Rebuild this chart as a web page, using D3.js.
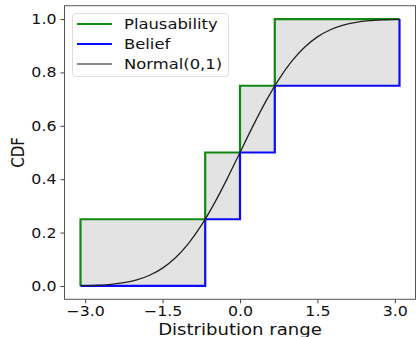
<!DOCTYPE html>
<html>
<head>
<meta charset="utf-8">
<script src="https://cdn.jsdelivr.net/npm/d3@7/dist/d3.min.js"></script>
<style>
  html, body { margin: 0; padding: 0; background: #fff; }
  svg { display: block; }
  svg text { font-family: "DejaVu Sans", sans-serif; fill: #111; }
</style>
</head>
<body>
<svg id="chart" width="416" height="337"></svg>
<script>
// Focal-element breakpoints (quartiles of N(0,1) plus the 0.001/0.999 tails)
const stepX = [-3.09, -0.674, 0, 0.674, 3.09];
// Upper (plausibility) and lower (belief) CDF bounds at each breakpoint
const plausibility = [0.25, 0.5, 0.75, 1.0, 1.0];
const belief = [0, 0.25, 0.5, 0.75, 1.0];

// Tabulated standard normal CDF
const normalX = [-3.09, -2.75, -2.5, -2.25, -2.0, -1.75, -1.5, -1.25, -1.0, -0.75, -0.5, -0.25, 0,
                 0.25, 0.5, 0.75, 1.0, 1.25, 1.5, 1.75, 2.0, 2.25, 2.5, 2.75, 3.09];
const normalY = [0.0010, 0.0030, 0.0062, 0.0122, 0.0228, 0.0401, 0.0668, 0.1056, 0.1587, 0.2266, 0.3085, 0.4013, 0.5,
                 0.5987, 0.6915, 0.7734, 0.8413, 0.8944, 0.9332, 0.9599, 0.9772, 0.9878, 0.9938, 0.9970, 0.9990];

const xTicks = [-3.0, -1.5, 0.0, 1.5, 3.0];
const yTicks = [0.0, 0.2, 0.4, 0.6, 0.8, 1.0];

const seriesNames = ["Plausability", "Belief", "Normal(0,1)"];
const seriesColors = ["#118811", "#0a0aff", "#222222"];

// Text is drawn slightly wide
const SX = 1.13;

const svg = d3.select("#chart");
const plotL = 64.5, plotR = 415.5, plotT = 5.7, plotB = 299.3;

const x = d3.scaleLinear().domain([-3.4, 3.4]).range([plotL, plotR]);
const y = d3.scaleLinear().domain([-0.05, 1.05]).range([plotB, plotT]);

// Shaded band between the bounds
const band = stepX.map((v, i) => ({x: v, lo: belief[i], hi: plausibility[i]}));
svg.append("path")
  .datum(band)
  .attr("d", d3.area().curve(d3.curveStepAfter)
    .x(d => x(d.x)).y0(d => y(d.lo)).y1(d => y(d.hi)))
  .attr("fill", "#e3e3e3");

// Plausibility: starts with a rise at the left end
const plausPts = [{x: stepX[0], y: 0}].concat(stepX.map((v, i) => ({x: v, y: plausibility[i]})));
const beliefPts = stepX.map((v, i) => ({x: v, y: belief[i]}));
const stepLine = d3.line().curve(d3.curveStepAfter).x(d => x(d.x)).y(d => y(d.y));

svg.append("path").datum(plausPts).attr("d", stepLine)
  .attr("fill", "none").attr("stroke", seriesColors[0]).attr("stroke-width", 2.2);
svg.append("path").datum(beliefPts).attr("d", stepLine)
  .attr("fill", "none").attr("stroke", seriesColors[1]).attr("stroke-width", 2.2);

// Normal(0,1) CDF
const normalPts = normalX.map((v, i) => ({x: v, y: normalY[i]}));
svg.append("path").datum(normalPts)
  .attr("d", d3.line().curve(d3.curveMonotoneX).x(d => x(d.x)).y(d => y(d.y)))
  .attr("fill", "none").attr("stroke", seriesColors[2]).attr("stroke-width", 1.3);

// Axes
const xAxis = svg.append("g").attr("transform", `translate(0,${plotB})`)
  .call(d3.axisBottom(x).tickValues(xTicks).tickSize(4).tickPadding(3)
    .tickFormat(d => d3.format(".1f")(d).replace("-", "\u2212")));
const yAxis = svg.append("g").attr("transform", `translate(${plotL},0)`)
  .call(d3.axisLeft(y).tickValues(yTicks).tickSize(4).tickPadding(4).tickFormat(d3.format(".1f")));
[xAxis, yAxis].forEach(g => {
  g.attr("font-family", null).attr("font-size", null);
  g.select(".domain").remove();
  g.selectAll("line").attr("stroke", "#444");
  g.selectAll("text").style("font-size", "14px");
});
xAxis.selectAll("text").attr("transform", `scale(${SX},1)`);
yAxis.selectAll("text").attr("x", -8 / SX).attr("transform", `scale(${SX},1)`);

// Frame
svg.append("rect").attr("x", plotL).attr("y", plotT)
  .attr("width", plotR - plotL).attr("height", plotB - plotT)
  .attr("fill", "none").attr("stroke", "#555").attr("stroke-width", 1);

// Axis labels
svg.append("text")
  .attr("transform", `translate(${(plotL + plotR) / 2},334.5) scale(${SX},1)`)
  .attr("text-anchor", "middle").style("font-size", "16px")
  .text("Distribution range");
svg.append("text")
  .attr("transform", `translate(23.5,${(plotT + plotB) / 2}) scale(${SX},1) rotate(-90)`)
  .attr("text-anchor", "middle").style("font-size", "15px")
  .text("CDF");

// Legend
const lg = svg.append("g");
lg.append("rect").attr("x", 72.5).attr("y", 13.5).attr("width", 156).attr("height", 63)
  .attr("rx", 3).attr("fill", "#fff").attr("fill-opacity", 0.85)
  .attr("stroke", "#ddd").attr("stroke-width", 1);
const legendLineColors = [seriesColors[0], seriesColors[1], "#666"];
seriesNames.forEach((name, i) => {
  const cy = 24 + i * 20;
  lg.append("line").attr("x1", 77).attr("x2", 112).attr("y1", cy).attr("y2", cy)
    .attr("stroke", legendLineColors[i]).attr("stroke-width", i < 2 ? 2.2 : 1.6);
  lg.append("text").attr("transform", `translate(124,${cy + 5}) scale(${SX},1)`)
    .style("font-size", "14.5px").text(name);
});
</script>
</body>
</html>
